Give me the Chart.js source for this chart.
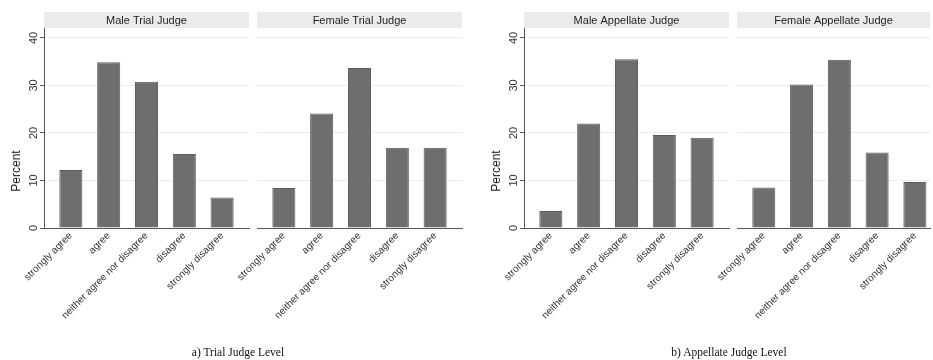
<!DOCTYPE html>
<html>
<head>
<meta charset="utf-8">
<script src="https://cdn.jsdelivr.net/npm/chart.js@4/dist/chart.umd.min.js"></script>
<style>
  html, body { margin: 0; padding: 0; background: #ffffff; overflow: hidden; }
  #wrap { position: relative; width: 933px; height: 360px; }
  #wrap canvas { position: absolute; left: 0; top: 0; }
  .ytitle {
    position: absolute; font-family: "Liberation Sans", Arial, sans-serif; font-size: 12px; color: #222;
    width: 80px; text-align: center; line-height: 14px;
    transform: translate(-50%, -50%) rotate(-90deg);
  }
  .caption {
    position: absolute; font-family: "Liberation Serif", "Times New Roman", serif; font-size: 11.5px; color: #111;
    white-space: nowrap; transform: translate(-50%, -50%);
  }
</style>
</head>
<body>
<div id="wrap">
  <canvas id="p1" width="933" height="360"></canvas>
  <canvas id="p2" width="933" height="360"></canvas>
  <canvas id="p3" width="933" height="360"></canvas>
  <canvas id="p4" width="933" height="360"></canvas>
  <div class="ytitle" style="left:16px; top:171px;">Percent</div>
  <div class="ytitle" style="left:496px; top:171px;">Percent</div>
  <div class="caption" style="left:238px; top:352px;">a) Trial Judge Level</div>
  <div class="caption" style="left:729px; top:352px;">b) Appellate Judge Level</div>
</div>
<script>
// Response categories (x axis)
const categories = ['strongly agree', 'agree', 'neither agree nor disagree', 'disagree', 'strongly disagree'];

// Percent of respondents per category
const maleTrial = [12.2, 34.9, 30.8, 15.6, 6.4];
const femaleTrial = [8.4, 24.1, 33.7, 16.9, 16.9];
const maleAppellate = [3.6, 22.0, 35.5, 19.6, 19.0];
const femaleAppellate = [8.5, 30.2, 35.4, 15.9, 9.7];

// Panel headings
const panelTitles = ['Male Trial Judge', 'Female Trial Judge', 'Male Appellate Judge', 'Female Appellate Judge'];

// Y axis ticks
const yTicks = [0, 10, 20, 30, 40];
const yMax = 42.1;

const SANS = '"Liberation Sans", Arial, sans-serif';

// Grey strip with the panel name above each plot region
const headerStrip = {
  id: 'headerStrip',
  afterDraw(chart, args, opts) {
    const { ctx, chartArea } = chart;
    const h = 16;
    ctx.save();
    ctx.fillStyle = '#ebebeb';
    ctx.fillRect(chartArea.left, chartArea.top - h, chartArea.right - chartArea.left, h);
    ctx.fillStyle = '#1e1e1e';
    ctx.font = '11px ' + SANS;
    ctx.textAlign = 'center';
    ctx.textBaseline = 'middle';
    ctx.fillText(opts.text, (chartArea.left + chartArea.right) / 2, chartArea.top - h / 2 + 0.5);
    ctx.restore();
  }
};

function makePanel(id, title, values, cfg) {
  const yScale = cfg.showY ? {
    min: 0, max: yMax,
    afterFit: s => { s.width = 44; },
    afterBuildTicks: s => { s.ticks = yTicks.map(v => ({ value: v })); },
    ticks: {
      display: true, minRotation: 90, maxRotation: 90, crossAlign: 'center', padding: 0,
      color: '#333', font: { family: SANS, size: 11 }
    },
    grid: {
      color: c => (c.tick && c.tick.value === 0 ? 'rgba(0,0,0,0)' : '#ededed'),
      tickColor: '#555', tickLength: 4, drawTicks: true, lineWidth: 1
    },
    border: { display: true, color: '#555', width: 1 }
  } : {
    min: 0, max: yMax,
    afterFit: s => { s.width = 0; },
    afterBuildTicks: s => { s.ticks = yTicks.map(v => ({ value: v })); },
    ticks: { display: false },
    grid: {
      color: c => (c.tick && c.tick.value === 0 ? 'rgba(0,0,0,0)' : '#ededed'),
      drawTicks: false, lineWidth: 1
    },
    border: { display: false }
  };

  return new Chart(document.getElementById(id), {
    type: 'bar',
    data: {
      datasets: [{
        data: values.map((v, i) => ({ x: i, y: v })),
        backgroundColor: '#6e6e6e',
        borderColor: '#5c5c5c',
        borderWidth: 1,
        categoryPercentage: 0.61,
        barPercentage: 1
      }]
    },
    options: {
      responsive: false,
      animation: false,
      devicePixelRatio: 1,
      layout: { padding: { left: cfg.left, right: cfg.right, top: 28, bottom: 32 } },
      plugins: {
        legend: { display: false },
        tooltip: { enabled: false },
        headerStrip: { text: title }
      },
      scales: {
        x: {
          type: 'linear',
          offset: false,
          bounds: 'data',
          min: -0.71, max: cfg.xMax,
          afterFit: s => { s.height = 100; },
          afterBuildTicks: s => { s.ticks = categories.map((c, i) => ({ value: i })); },
          ticks: {
            autoSkip: false, minRotation: 45, maxRotation: 45, padding: 2,
            color: '#333', font: { family: SANS, size: 10 },
            callback: v => categories[v]
          },
          grid: { display: false, drawTicks: false, offset: false },
          border: { display: true, color: '#555', width: 1 }
        },
        y: yScale
      }
    },
    plugins: [headerStrip]
  });
}

makePanel('p1', panelTitles[0], maleTrial, { showY: true, left: 0, right: 933 - 249, xMax: 4.71 });
makePanel('p2', panelTitles[1], femaleTrial, { showY: false, left: 257, right: 933 - 462, xMax: 4.71 });
makePanel('p3', panelTitles[2], maleAppellate, { showY: true, left: 480, right: 933 - 729, xMax: 4.71 });
makePanel('p4', panelTitles[3], femaleAppellate, { showY: false, left: 737, right: 3, xMax: 4.4 });
</script>
</body>
</html>
